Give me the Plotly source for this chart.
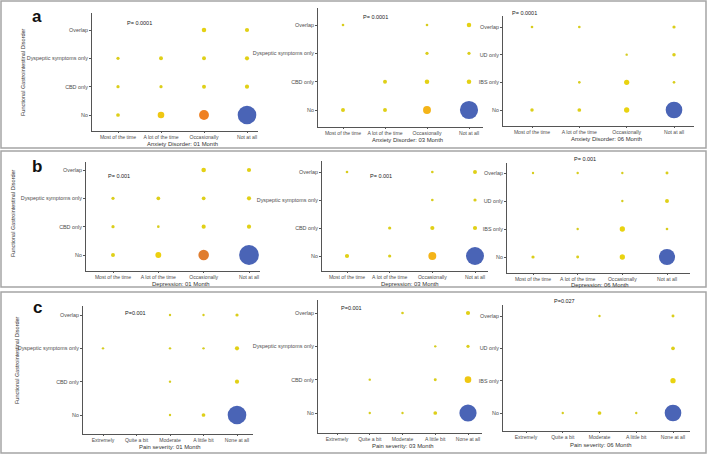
import plotly.graph_objects as go

W, H = 709, 456

# ---------------- data ----------------
FGID_3M = ["No", "CBD only", "Dyspeptic symptoms only", "Overlap"]
FGID_6M = ["No", "IBS only", "UD only", "Overlap"]
FREQ = ["Most of the time", "A lot of the time", "Occasionally", "Not at all"]
PAIN = ["Extremely", "Quite a bit", "Moderate", "A little bit", "None at all"]

# rows follow the y-category order (No, CBD/IBS, Dyspeptic/UD, Overlap)
anxiety_01 = [[8, 25, 56, 200], [6, 6, 9, 10], [6, 9, 9, 10], [0, 0, 12, 10]]
anxiety_03 = [[9, 9, 36, 190], [0, 9, 12, 12], [0, 0, 6, 6], [4, 0, 4, 12]]
anxiety_06 = [[7, 8, 16, 160], [0, 4, 16, 4], [0, 0, 2, 7], [4, 4, 0, 6]]
depression_01 = [[9, 20, 64, 225], [6, 4, 10, 10], [6, 8, 8, 10], [0, 0, 12, 10]]
depression_03 = [[10, 6, 36, 185], [0, 6, 10, 10], [0, 0, 4, 6], [4, 0, 4, 9]]
depression_06 = [[6, 5, 16, 150], [0, 2, 16, 4], [0, 0, 2, 9], [3, 3, 2, 5]]
pain_01 = [[0, 0, 3, 8, 200], [0, 0, 2, 0, 10], [2, 0, 2, 2, 10], [0, 0, 2, 3, 6]]
pain_03 = [[0, 3, 2, 8, 170], [0, 2, 0, 5, 25], [0, 0, 0, 2, 6], [0, 0, 4, 0, 10]]
pain_06 = [[0, 2, 8, 3, 160], [0, 0, 0, 0, 16], [0, 0, 0, 0, 8], [0, 0, 3, 0, 5]]

p_values = ["P= 0.0001", "P= 0.0001", "P= 0.0001",
            "P= 0.001", "P= 0.001", "P= 0.001",
            "P=0.001", "P=0.001", "P=0.027"]
x_titles = ["Anxiety Disorder: 01 Month", "Anxiety Disorder: 03 Month", "Anxiety Disorder: 06 Month",
            "Depression: 01 Month", "Depression: 03 Month", "Depression: 06 Month",
            "Pain severity: 01 Month", "Pain severity: 03 Month", "Pain severity: 06 Month"]
row_letters = ["a", "b", "c"]
y_title = "Functional Gastrointestinal Disorder"

panels_data = [
    (anxiety_01, FREQ, FGID_3M), (anxiety_03, FREQ, FGID_3M), (anxiety_06, FREQ, FGID_6M),
    (depression_01, FREQ, FGID_3M), (depression_03, FREQ, FGID_3M), (depression_06, FREQ, FGID_6M),
    (pain_01, PAIN, FGID_3M), (pain_03, PAIN, FGID_3M), (pain_06, PAIN, FGID_6M),
]

# ---------------- layout geometry (pixels) ----------------
GEOM = [
    dict(left=92, right=258, x0=118, x1=247, top=13, bottom=131, yno=115, yov=30, px=139, py=23, tx=182, ty=143.5),
    dict(left=318, right=483, x0=343, x1=469, top=8, bottom=127, yno=110, yov=25, px=376, py=17, tx=407, ty=139.5),
    dict(left=503, right=694, x0=532, x1=674, top=16, bottom=126, yno=110, yov=27, px=524, py=13, tx=606, ty=139),
    dict(left=86, right=260, x0=113, x1=249, top=162, bottom=271, yno=255, yov=170, px=119, py=176, tx=181, ty=283.5),
    dict(left=322, right=488, x0=347, x1=475, top=161, bottom=271, yno=256, yov=172, px=381, py=176, tx=410, ty=284),
    dict(left=507, right=690, x0=533, x1=667, top=163, bottom=273, yno=257, yov=173, px=585, py=159, tx=600, ty=285),
    dict(left=83, right=253, x0=103, x1=237, top=306, bottom=434, yno=415, yov=315, px=135, py=313, tx=170, ty=447),
    dict(left=318, right=482, x0=337, x1=468, top=300, bottom=433, yno=413, yov=313, px=351, py=308, tx=403, ty=446),
    dict(left=503, right=690, x0=526, x1=673, top=305, bottom=431, yno=413, yov=316, px=564, py=301, tx=601, ty=445),
]
ROW_BOXES = [(1, 1, 706, 148), (1, 151, 706, 287), (1, 292, 706, 453)]
LETTER_POS = [(37, 16), (37, 166), (37, 307)]
YTITLE_POS = [(23, 72), (13, 213), (17, 360)]

FONT = "Liberation Sans, Arial, sans-serif"
AXCOL = "#555555"

fig = go.Figure()
layout = {}
annotations = []


def note(text, x, y, size, color, **kw):
    annotations.append(dict(text=text, x=x / W, y=1 - y / H, xref="paper", yref="paper",
                            showarrow=False, xanchor="center", yanchor="middle",
                            font=dict(size=size, color=color, family=FONT), **kw))


for i, ((counts, xcats, ycats), g) in enumerate(zip(panels_data, GEOM)):
    sfx = "" if i == 0 else str(i + 1)
    xs, ys, cs = [], [], []
    for r, yc in enumerate(ycats):
        for c, xc in enumerate(xcats):
            xs.append(xc)
            ys.append(yc)
            cs.append(counts[r][c])
    fig.add_trace(go.Scatter(
        x=xs, y=ys, mode="markers", xaxis="x" + sfx, yaxis="y" + sfx,
        marker=dict(size=cs, sizemode="area", sizeref=1.15, sizemin=1.2, opacity=1,
                    color=cs, coloraxis="coloraxis", line=dict(width=0)),
        showlegend=False, hovertemplate="%{x}<br>%{y}: %{marker.size}<extra></extra>"))

    dx = (g["x1"] - g["x0"]) / (len(xcats) - 1)
    dy = (g["yno"] - g["yov"]) / (len(ycats) - 1)
    common = dict(showline=True, linecolor=AXCOL, linewidth=1, showgrid=False, zeroline=False,
                  ticks="outside", ticklen=2, tickwidth=0.7, tickcolor=AXCOL,
                  type="category", categoryorder="array", fixedrange=True)
    layout["xaxis" + sfx] = dict(
        common, domain=[g["left"] / W, g["right"] / W], anchor="y" + sfx,
        categoryarray=xcats, ticklen=1,
        tickfont=dict(size=5.1, color="#4d4d4d", family=FONT),
        range=[(g["left"] - g["x0"]) / dx, (g["right"] - g["x0"]) / dx])
    layout["yaxis" + sfx] = dict(
        common, domain=[1 - g["bottom"] / H, 1 - g["top"] / H], anchor="x" + sfx,
        categoryarray=ycats,
        tickfont=dict(size=5.4, color="#4d4d4d", family=FONT),
        range=[(g["yno"] - g["bottom"]) / dy, (g["yno"] - g["top"]) / dy])

    note(p_values[i], g["px"], g["py"], 5.5, "#222222")
    note(x_titles[i], g["tx"], g["ty"], 5.9, "#333333")

shapes = []
for (x0, y0, x1, y1) in ROW_BOXES:
    shapes.append(dict(type="rect", xref="paper", yref="paper",
                       x0=x0 / W, x1=x1 / W, y0=1 - y1 / H, y1=1 - y0 / H,
                       line=dict(color="#a5a5a5", width=1.5), fillcolor="rgba(0,0,0,0)"))

for letter, (lx, ly) in zip(row_letters, LETTER_POS):
    note("<b>%s</b>" % letter, lx, ly, 17, "#111111")
for (yx, yy) in YTITLE_POS:
    note(y_title, yx, yy, 5.5, "#333333", textangle=-90)

fig.update_layout(
    width=W, height=H, margin=dict(l=0, r=0, t=0, b=0),
    paper_bgcolor="white", plot_bgcolor="white",
    coloraxis=dict(cmin=0, cmax=256, showscale=False,
                   colorscale=[[0.0, "#e4e4e4"], [0.004, "#d4cc20"], [0.07, "#ecd40e"],
                               [0.14, "#f4b418"], [0.22, "#ef7f22"], [0.55, "#4a64b6"],
                               [1.0, "#4a64b6"]]),
    shapes=shapes, annotations=annotations, **layout)

fig.write_html("out.html", config={"displayModeBar": False},
               post_script="document.body.style.margin='0';")
